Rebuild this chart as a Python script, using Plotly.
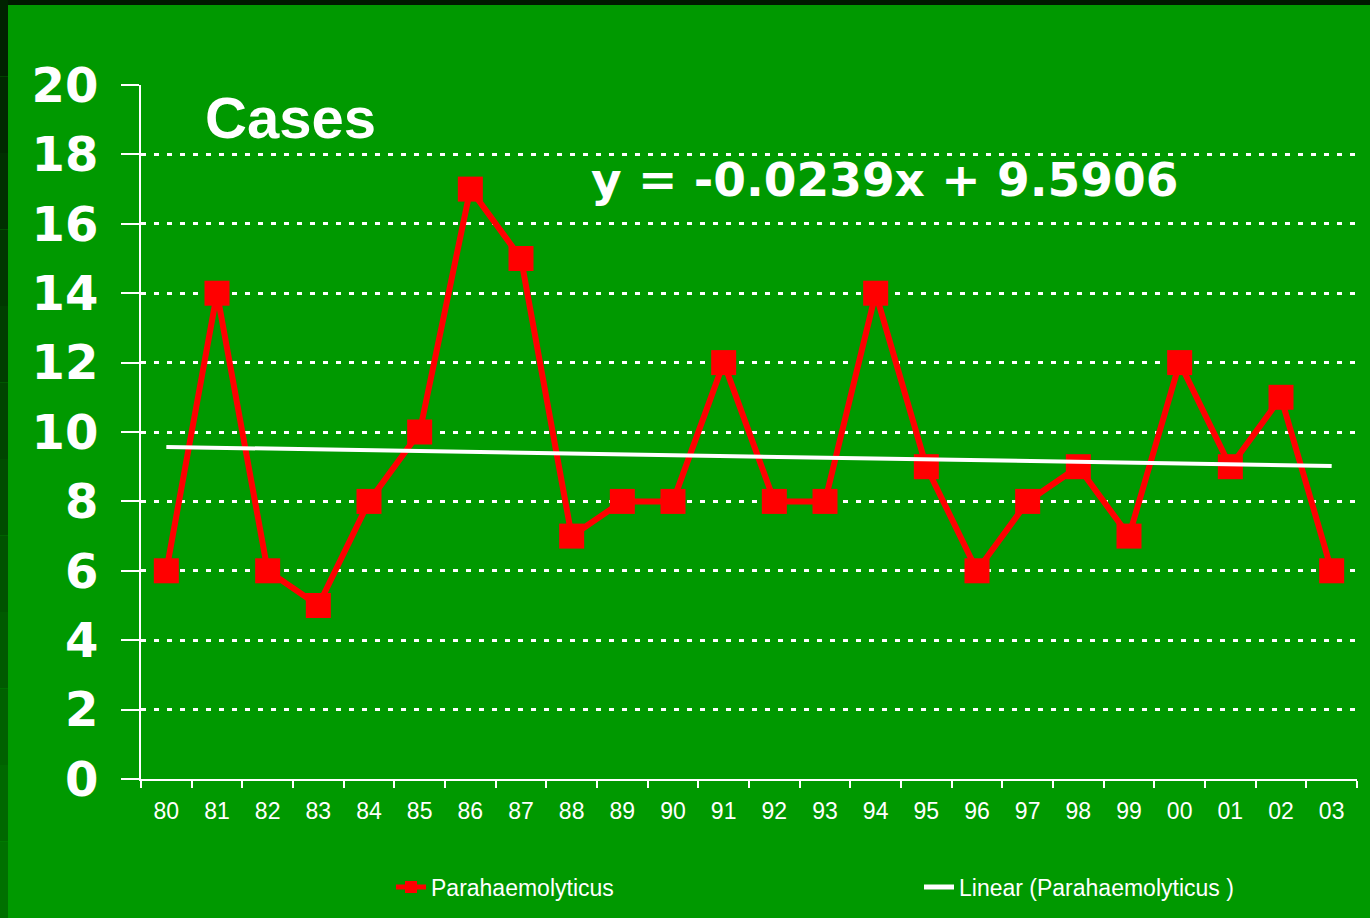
import plotly.graph_objects as go

# ---- data ----
years = ["80", "81", "82", "83", "84", "85", "86", "87", "88", "89", "90", "91",
         "92", "93", "94", "95", "96", "97", "98", "99", "00", "01", "02", "03"]
cases = [6, 14, 6, 5, 8, 10, 17, 15, 7, 8, 8, 12, 8, 8, 14, 9, 6, 8, 9, 7, 12, 9, 11, 6]
trend_years = ["80", "03"]
trend_values = [9.57, 9.02]
y_ticks = [0, 2, 4, 6, 8, 10, 12, 14, 16, 18, 20]

W, H = 1370, 918
ML, MR, MT, MB = 141, 13, 85, 139
PW = W - ML - MR
PH = H - MT - MB


def px_x(px):
    return (px - ML) / PW


def px_y(py):
    return (H - MB - py) / PH


BG = "#009900"
LEG_FONT = dict(family="Liberation Sans, Arial", size=23, color="white")

fig = go.Figure()
fig.add_trace(go.Scatter(
    x=years, y=cases, mode="lines+markers", name="Parahaemolyticus",
    line=dict(color="#ff0000", width=6),
    marker=dict(symbol="square", size=25, color="#ff0000"),
    legend="legend",
))
fig.add_trace(go.Scatter(
    x=trend_years, y=trend_values, mode="lines", name="Linear (Parahaemolyticus )",
    line=dict(color="white", width=4),
    legend="legend2",
))

shapes = []
# top dark band
shapes.append(dict(type="rect", xref="paper", yref="paper", layer="below",
                   x0=px_x(0), x1=px_x(W), y0=px_y(5), y1=px_y(0),
                   fillcolor="#001a00", line=dict(width=0)))
# left gradient strip
n = 12
for i in range(n):
    t = i / (n - 1)
    g = int(0x22 + (0x70 - 0x22) * t)
    shapes.append(dict(type="rect", xref="paper", yref="paper", layer="below",
                       x0=px_x(0), x1=px_x(8),
                       y0=px_y(H * (i + 1) / n), y1=px_y(H * i / n),
                       fillcolor=f"rgb(0,{g},0)", line=dict(width=0)))

fig.update_layout(
    width=W, height=H, autosize=False,
    margin=dict(l=ML, r=MR, t=MT, b=MB, pad=0, autoexpand=False),
    paper_bgcolor=BG, plot_bgcolor=BG,
    shapes=shapes,
    showlegend=True,
    legend=dict(
        x=px_x(391), y=px_y(887), xanchor="left", yanchor="middle",
        font=LEG_FONT, bgcolor="rgba(0,0,0,0)", itemsizing="constant",
    ),
    legend2=dict(
        x=px_x(919), y=px_y(887), xanchor="left", yanchor="middle",
        font=LEG_FONT, bgcolor="rgba(0,0,0,0)", itemsizing="constant",
    ),
    xaxis=dict(
        type="category", categoryorder="array", categoryarray=years,
        range=[-0.5, len(years) - 0.5],
        tickson="boundaries", ticks="outside", ticklen=7, tickwidth=2, tickcolor="white",
        showline=True, linecolor="white", linewidth=2,
        showgrid=False, zeroline=False,
        tickfont=dict(family="Liberation Sans, Arial", size=23, color="white"),
        ticklabelstandoff=10,
    ),
    yaxis=dict(
        range=[0, 20], tickvals=y_ticks, ticktext=[str(v) for v in y_ticks],
        ticks="outside", ticklen=18, tickwidth=2, tickcolor="white",
        showline=True, linecolor="white", linewidth=2,
        showgrid=True, gridcolor="white", gridwidth=3, griddash="5px,8px",
        zeroline=False,
        tickfont=dict(family="DejaVu Sans", size=48, color="white", weight="bold"),
        ticklabelstandoff=13,
    ),
    annotations=[
        dict(text="Cases", xref="paper", yref="paper", x=px_x(203), y=px_y(117),
             xanchor="left", yanchor="middle", showarrow=False,
             font=dict(family="Liberation Sans, Arial", size=58, color="white", weight="bold")),
        dict(text="y = -0.0239x + 9.5906", xref="paper", yref="paper", x=px_x(589), y=px_y(180),
             xanchor="left", yanchor="middle", showarrow=False,
             font=dict(family="DejaVu Sans", size=47, color="white", weight="bold")),
    ],
)

fig.write_html(
    "out.html",
    config={"displayModeBar": False},
    post_script="document.body.style.margin='0';document.body.style.overflow='hidden';",
)
